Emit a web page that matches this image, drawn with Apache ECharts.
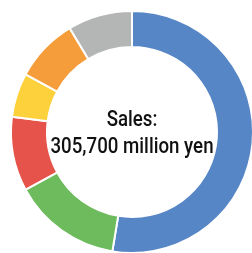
<!DOCTYPE html>
<html>
<head>
<meta charset="utf-8">
<script src="https://cdn.jsdelivr.net/npm/echarts@6/dist/echarts.min.js"></script>
<style>
    html, body { margin: 0; padding: 0; background: #fff; }
    #pie { width: 252px; height: 253px; }
</style>
</head>
<body>
<div id="pie"></div>
<script>
    // share of sales per segment (%), clockwise from 12 o'clock
    const segments = ['A', 'B', 'C', 'D', 'E', 'F'];
    const shares = [52.6, 14.5, 9.9, 5.9, 8.5, 8.6];
    const colors = ['#5686c6', '#6dbb5c', '#e5534a', '#fdd13c', '#f49d3a', '#b4b5b5'];
    const centerLines = ['Sales:', '305,700 million yen'];

    const myChart = echarts.init(document.getElementById('pie'));
    const option = {
        animation: false,
        color: colors,
        // centre caption, squeezed horizontally to look like a condensed face
        graphic: [
            {
                type: 'text',
                x: 132,
                y: 134,
                scaleX: 0.85,
                style: {
                    text: centerLines.join('\n'),
                    font: '500 22px Roboto',
                    lineHeight: 27,
                    align: 'center',
                    verticalAlign: 'middle',
                    fill: '#111'
                }
            }
        ],
        series: [
            {
                type: 'pie',
                center: [132, 132],
                radius: [85, 121],
                startAngle: 90,
                clockwise: true,
                label: { show: false },
                labelLine: { show: false },
                itemStyle: {
                    borderColor: '#fff',
                    borderWidth: 2
                },
                data: segments.map((name, i) => ({ name: name, value: shares[i] }))
            }
        ]
    };
    myChart.setOption(option);
</script>
</body>
</html>
